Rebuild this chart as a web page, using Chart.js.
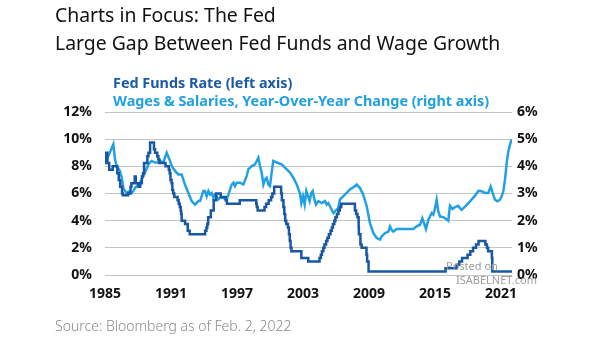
<html>
<head>
  <script src="https://cdn.jsdelivr.net/npm/chart.js"></script>
  <style>
    body { margin: 0; background: #fff; }
    .wrap { position: relative; width: 605px; height: 341px; overflow: hidden; font-family: 'Noto Sans', sans-serif; }
    #chart { position: absolute; left: 0; top: 0; }
    .txt { position: absolute; white-space: nowrap; line-height: 1; }
    .title { left: 55px; font-size: 19.4px; color: #111; }
    .leg { left: 113px; font-size: 14.4px; font-weight: bold; }
    .src { left: 55px; top: 319px; font-size: 14px; color: #8a8a8a; font-weight: 300; }
    .wm { font-size: 11px; color: #9c9c9c; }
  </style>
</head>
<body>
<div class="wrap">
  <canvas id="chart" width="605" height="341"></canvas>
  <div class="txt title" style="top:5px">Charts in Focus: The Fed</div>
  <div class="txt title" style="top:33px">Large Gap Between Fed Funds and Wage Growth</div>
  <div class="txt leg" style="top:76px;color:#1b5aa6">Fed Funds Rate (left axis)</div>
  <div class="txt leg" style="top:94px;color:#1fa0e0">Wages &amp; Salaries, Year-Over-Year Change (right axis)</div>
  <div class="txt wm" style="left:446px;top:260px">Posted on</div>
  <div class="txt wm" style="left:456px;top:274px">ISABELNET.com</div>
  <div class="txt src">Source: Bloomberg as of Feb. 2, 2022</div>
</div>
<script>
  // x axis tick labels (years)
  const yearTicks = [1985, 1991, 1997, 2003, 2009, 2015, 2021];

  // Fed funds rate: date of change, new level (%)
  const ffDates = [1985.00, 1985.04, 1985.10, 1985.16, 1985.22, 1985.38, 1985.70, 1986.12, 1986.25, 1986.38,
    1986.55, 1986.62, 1987.10, 1987.32, 1987.40, 1987.70, 1987.80, 1988.05, 1988.20, 1988.35,
    1988.45, 1988.55, 1988.85, 1988.95, 1989.10, 1989.45, 1989.55, 1989.75, 1989.85, 1989.95,
    1990.50, 1990.80, 1990.88, 1990.95, 1991.05, 1991.12, 1991.20, 1991.30, 1991.60, 1991.70,
    1991.80, 1991.88, 1991.92, 1991.97, 1992.28, 1992.52, 1992.70, 1994.10, 1994.22, 1994.30,
    1994.38, 1994.62, 1994.88, 1995.10, 1995.52, 1995.97, 1996.08, 1997.25, 1998.75, 1998.80,
    1998.88, 1999.50, 1999.65, 1999.88, 2000.10, 2000.22, 2000.38, 2001.01, 2001.08, 2001.22,
    2001.30, 2001.38, 2001.48, 2001.63, 2001.72, 2001.80, 2001.87, 2001.95, 2002.85, 2003.48,
    2004.50, 2004.62, 2004.72, 2004.85, 2004.95, 2005.10, 2005.22, 2005.35, 2005.50, 2005.62,
    2005.72, 2005.85, 2005.95, 2006.08, 2006.22, 2006.35, 2006.48, 2007.72, 2007.83, 2007.95,
    2008.06, 2008.08, 2008.22, 2008.33, 2008.77, 2008.83, 2008.96, 2015.96, 2016.96, 2017.21,
    2017.46, 2017.96, 2018.21, 2018.46, 2018.73, 2018.96, 2019.58, 2019.72, 2019.83, 2020.17,
    2020.21, 2022.00];
  const ffRates = [8.5, 9.0, 8.25, 9.0, 8.25, 7.75, 8.0, 7.5, 7.0, 6.5,
    6.0, 5.875, 6.0, 6.5, 6.75, 7.25, 6.75, 6.5, 6.75, 7.25,
    7.5, 8.25, 8.75, 9.0, 9.75, 9.25, 9.0, 8.75, 8.5, 8.25,
    8.0, 7.75, 7.5, 7.0, 6.75, 6.25, 6.0, 5.75, 5.5, 5.25,
    5.0, 4.75, 4.5, 4.0, 3.75, 3.25, 3.0, 3.25, 3.5, 3.75,
    4.25, 4.75, 5.5, 6.0, 5.75, 5.5, 5.25, 5.5, 5.25, 5.0,
    4.75, 5.0, 5.25, 5.5, 5.75, 6.0, 6.5, 6.0, 5.5, 5.0,
    4.5, 4.0, 3.75, 3.5, 3.0, 2.5, 2.0, 1.75, 1.25, 1.0,
    1.25, 1.5, 1.75, 2.0, 2.25, 2.5, 2.75, 3.0, 3.25, 3.5,
    3.75, 4.0, 4.25, 4.5, 4.75, 5.0, 5.25, 4.75, 4.5, 4.25,
    3.5, 3.0, 2.25, 2.0, 1.5, 1.0, 0.25, 0.5, 0.75, 1.0,
    1.25, 1.5, 1.75, 2.0, 2.25, 2.5, 2.25, 2.0, 1.75, 1.25,
    0.25, 0.25];

  // Wages & salaries, year-over-year change (%)
  const wageDates = [1985.00, 1985.30, 1985.76, 1985.91, 1986.06, 1986.36, 1986.52, 1986.67, 1986.82, 1986.97,
    1987.27, 1987.42, 1987.58, 1987.73, 1988.03, 1988.18, 1988.48, 1988.64, 1988.94, 1989.09,
    1989.24, 1989.55, 1989.85, 1990.00, 1990.30, 1990.61, 1990.91, 1991.06, 1991.36, 1991.67,
    1991.97, 1992.27, 1992.58, 1992.88, 1993.18, 1993.48, 1993.64, 1993.79, 1993.94, 1994.09,
    1994.24, 1994.40, 1994.55, 1994.70, 1994.85, 1995.00, 1995.15, 1995.30, 1995.46, 1995.76,
    1996.06, 1996.22, 1996.37, 1996.52, 1996.67, 1996.82, 1996.97, 1997.28, 1997.58, 1997.88,
    1998.03, 1998.34, 1998.64, 1998.94, 1999.09, 1999.24, 1999.40, 1999.55, 1999.70, 1999.85,
    2000.00, 2000.15, 2000.30, 2000.61, 2001.06, 2001.52, 2001.82, 2002.12, 2002.43, 2002.73,
    2002.85, 2003.00, 2003.15, 2003.30, 2003.45, 2003.60, 2003.75, 2003.88, 2004.03, 2004.18,
    2004.40, 2004.70, 2005.00, 2005.15, 2005.30, 2005.60, 2005.76, 2006.06, 2006.21, 2006.36,
    2006.67, 2007.27, 2007.73, 2007.88, 2008.18, 2008.48, 2008.79, 2009.09, 2009.40, 2009.70,
    2010.00, 2010.15, 2010.45, 2010.76, 2010.91, 2011.06, 2011.21, 2011.52, 2013.03, 2013.33,
    2013.64, 2013.85, 2014.00, 2014.18, 2014.40, 2014.70, 2014.85, 2015.00, 2015.15, 2015.30,
    2015.46, 2015.76, 2015.91, 2016.21, 2016.36, 2016.60, 2016.82, 2017.12, 2017.27, 2017.42,
    2017.73, 2018.18, 2018.64, 2018.94, 2019.24, 2019.55, 2019.85, 2020.06, 2020.24, 2020.45,
    2020.67, 2020.91, 2021.06, 2021.21, 2021.36, 2021.52, 2021.67, 2021.82, 2021.97];
  const wageChange = [4.14, 4.38, 4.81, 4.26, 4.01, 3.83, 3.58, 3.20, 3.09, 3.02,
    3.09, 3.02, 3.09, 3.20, 3.33, 3.40, 3.64, 3.77, 4.07, 4.14,
    4.20, 4.14, 4.14, 4.20, 4.14, 4.50, 4.20, 4.01, 3.83, 3.70,
    3.70, 3.33, 3.02, 2.72, 2.59, 2.72, 2.72, 2.90, 3.09, 3.09,
    2.90, 3.09, 2.96, 3.02, 2.84, 2.96, 2.90, 2.78, 2.84, 2.84,
    2.78, 2.96, 3.15, 3.33, 3.40, 3.27, 3.40, 3.40, 3.33, 3.64,
    3.89, 4.01, 4.07, 4.32, 4.01, 3.77, 3.33, 3.52, 3.58, 3.33,
    3.27, 3.77, 4.20, 4.14, 4.07, 3.89, 3.77, 3.58, 3.33, 3.00,
    2.65, 2.90, 2.60, 3.09, 2.90, 2.72, 3.02, 3.09, 2.78, 2.59,
    2.72, 2.65, 2.72, 2.59, 2.65, 2.41, 2.28, 2.41, 2.47, 2.78,
    2.90, 3.15, 3.27, 3.33, 3.20, 2.96, 2.53, 1.91, 1.54, 1.36,
    1.30, 1.42, 1.54, 1.60, 1.79, 1.66, 1.60, 1.69, 1.69, 1.79,
    1.85, 2.09, 1.91, 1.69, 2.04, 2.28, 2.22, 2.46, 2.77, 2.34,
    2.15, 2.13, 2.09, 2.00, 2.55, 2.43, 2.50, 2.55, 2.46, 2.40,
    2.52, 2.71, 2.92, 3.10, 3.08, 3.02, 3.02, 3.26, 3.02, 2.77,
    2.71, 2.77, 2.90, 3.08, 3.50, 4.13, 4.56, 4.80, 4.99];

  const tickFont = { family: 'Noto Sans', size: 14, weight: 'bold' };

  new Chart(document.getElementById('chart'), {
    type: 'line',
    data: {
      datasets: [{
        label: 'Fed Funds Rate (left axis)',
        data: ffDates.map((d, i) => ({ x: d, y: ffRates[i] })),
        yAxisID: 'y',
        stepped: true,
        borderColor: '#1857a4',
        borderWidth: 2.5,
        pointRadius: 0
      }, {
        label: 'Wages & Salaries, Year-Over-Year Change (right axis)',
        data: wageDates.map((d, i) => ({ x: d, y: wageChange[i] })),
        yAxisID: 'y1',
        borderColor: '#21a1e2',
        borderWidth: 2.5,
        pointRadius: 0
      }]
    },
    options: {
      responsive: false,
      animation: false,
      devicePixelRatio: 1,
      layout: { padding: { top: 112, left: 0, right: 0, bottom: 0 } },
      plugins: { legend: { display: false }, tooltip: { enabled: false } },
      scales: {
        x: {
          type: 'linear',
          min: 1985,
          max: 2022,
          afterBuildTicks: s => { s.ticks = yearTicks.map(v => ({ value: v })); },
          afterFit: s => { s.height = 66; },
          grid: { display: false },
          border: { display: false },
          ticks: {
            font: tickFont,
            color: '#111',
            padding: 3,
            maxRotation: 0,
            autoSkip: false,
            callback: v => String(v)
          }
        },
        y: {
          position: 'left',
          min: 0,
          max: 12,
          afterFit: s => { s.width = 105; },
          grid: { color: '#c4c4c4', lineWidth: 1, drawTicks: false },
          border: { display: false },
          ticks: { stepSize: 2, font: tickFont, color: '#111', padding: 13, callback: v => v + '%' }
        },
        y1: {
          position: 'right',
          min: 0,
          max: 6,
          afterFit: s => { s.width = 93; },
          grid: { display: false, drawTicks: false },
          border: { display: false },
          ticks: { stepSize: 1, font: tickFont, color: '#111', padding: 5, callback: v => v + '%' }
        }
      }
    }
  });
</script>
</body>
</html>
